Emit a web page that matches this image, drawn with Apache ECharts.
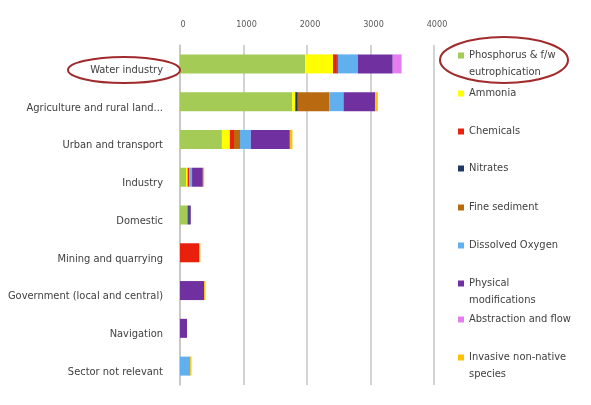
<!DOCTYPE html>
<html>
<head>
  <meta charset="utf-8">
  <title>Sector pressures</title>
  <script src="https://cdn.jsdelivr.net/npm/echarts@6/dist/echarts.min.js"></script>
  <style>
    html, body { margin: 0; padding: 0; background: #fff; }
    #chart { width: 591px; height: 405px; }
  </style>
</head>
<body>
  <div id="chart"></div>
  <script>
    // sectors, top to bottom
    let sectors = ['Water industry', 'Agriculture and rural land...', 'Urban and transport', 'Industry',
      'Domestic', 'Mining and quarrying', 'Government (local and central)', 'Navigation', 'Sector not relevant'];
    let xTicks = [0, 1000, 2000, 3000, 4000];

    // values per pressure
    let phosphorus = [1970, 1765, 660, 95, 120, 0, 0, 0, 0];
    let ammonia = [440, 50, 125, 25, 0, 0, 0, 0, 0];
    let chemicals = [60, 0, 65, 25, 0, 300, 0, 0, 0];
    let nitrates = [15, 40, 0, 0, 20, 0, 0, 0, 0];
    let fineSediment = [0, 500, 95, 0, 0, 0, 0, 0, 0];
    let dissolvedOxygen = [315, 220, 170, 45, 0, 0, 0, 0, 160];
    let physicalMods = [550, 500, 615, 170, 30, 0, 380, 110, 0];
    let abstraction = [140, 0, 0, 0, 0, 0, 0, 0, 0];
    let invasive = [0, 40, 40, 20, 0, 20, 20, 0, 20];

    // legend names, split where the picture wraps them
    let names = [['Phosphorus & f/w', 'eutrophication'], ['Ammonia'], ['Chemicals'], ['Nitrates'], ['Fine sediment'],
      ['Dissolved Oxygen'], ['Physical', 'modifications'], ['Abstraction and flow'], ['Invasive non-native', 'species']];
    let colors = ['#a3cb55', '#ffff00', '#e8200c', '#1f3864', '#b96a10', '#60b0f0', '#7030a0', '#e47ef0', '#ffc000'];
    let values = [phosphorus, ammonia, chemicals, nitrates, fineSediment, dissolvedOxygen, physicalMods, abstraction, invasive];
    let legendTops = [42, 80, 118, 155, 194, 232, 270, 306, 344];

    let font = '"DejaVu Sans Condensed", "Liberation Sans", sans-serif';

    let series = [];
    let legends = [];
    let graphics = [
      {
        type: 'ellipse',
        shape: { cx: 124, cy: 70, rx: 56, ry: 13 },
        style: { fill: null, stroke: '#a02a2c', lineWidth: 2 },
        z: 10
      },
      {
        type: 'ellipse',
        shape: { cx: 504, cy: 60, rx: 64, ry: 23 },
        style: { fill: null, stroke: '#a02a2c', lineWidth: 2 },
        z: 10
      }
    ];
    for (let i = 0; i < names.length; i++) {
      let full = names[i].join(' ');
      series.push({
        name: full,
        type: 'bar',
        stack: 'total',
        barWidth: 19,
        itemStyle: { color: colors[i] },
        data: values[i]
      });
      legends.push({
        data: [full],
        left: 453,
        top: legendTops[i],
        icon: 'rect',
        itemWidth: 6,
        itemHeight: 6,
        formatter: function () { return names[i][0]; },
        textStyle: { fontFamily: font, fontSize: 11, color: '#404040', lineHeight: 17 },
        selectedMode: false
      });
      // second line of wrapped legend names
      if (names[i].length > 1) {
        graphics.push({
          type: 'text',
          left: 469,
          top: legendTops[i] + 25,
          style: { text: names[i][1], font: '11px ' + font, fill: '#404040' }
        });
      }
    }

    let myChart = echarts.init(document.getElementById('chart'));
    let option = {
      animation: false,
      grid: { left: 180, right: 157, top: 45, bottom: 20 },
      legend: legends,
      xAxis: {
        type: 'value',
        position: 'top',
        min: xTicks[0],
        max: xTicks[xTicks.length - 1],
        interval: 1000,
        axisLine: { show: false },
        axisTick: { show: false },
        axisLabel: {
          fontFamily: font, fontSize: 9, color: '#595959', margin: 16, padding: [0, 0, 0, 6],
          formatter: function (v) { return String(v); }
        },
        splitLine: { lineStyle: { color: '#c4c4c4', width: 1.5 } }
      },
      yAxis: {
        type: 'category',
        inverse: true,
        data: sectors,
        axisLine: { lineStyle: { color: '#c4c4c4', width: 1.5 } },
        axisTick: { length: 4, lineStyle: { color: '#c4c4c4' } },
        axisLabel: { fontFamily: font, fontSize: 11, color: '#404040', margin: 17, verticalAlign: 'top', lineHeight: 12 }
      },
      graphic: graphics,
      series: series
    };
    myChart.setOption(option);
  </script>
</body>
</html>
